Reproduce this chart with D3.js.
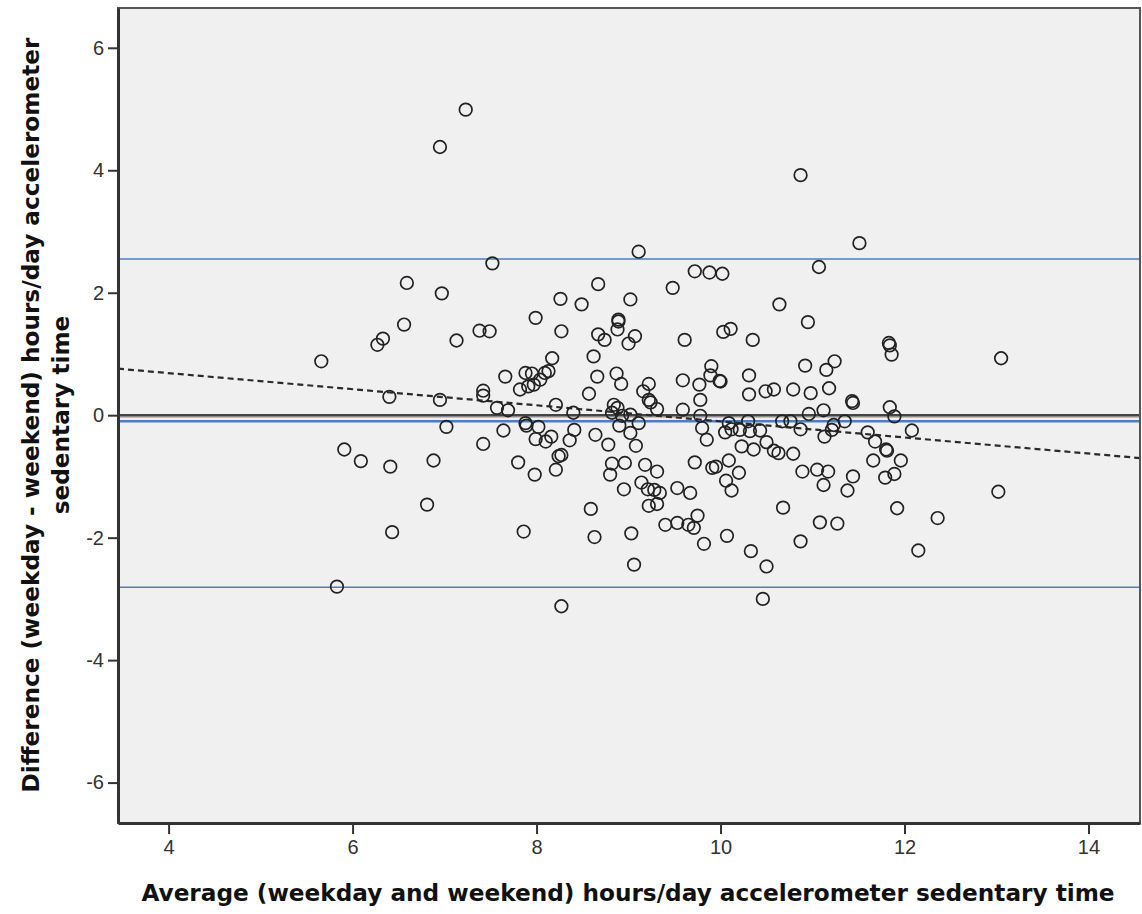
<!DOCTYPE html>
<html>
<head>
<meta charset="utf-8">
<script src="https://cdn.jsdelivr.net/npm/d3@7"></script>
<style>
  html, body { margin: 0; padding: 0; background: #ffffff; }
  svg { display: block; }
</style>
</head>
<body>
<svg id="chart" width="1142" height="914"></svg>
<script>
// ---- Data ----
const avgHours = [
  7.23, 6.95, 7.52, 6.59, 6.97, 8.26, 8.49, 7.99, 10.87, 11.51,
  5.66, 6.27, 6.33, 6.56, 7.13, 7.38, 7.49, 8.27, 8.17, 7.66,
  7.88, 7.95, 8.09, 8.13, 8.04, 7.97, 7.91, 7.82, 7.42, 7.42,
  6.40, 6.95, 7.57, 7.69, 8.21, 8.40, 7.02, 7.64, 7.88, 7.89,
  8.02, 8.41, 7.42, 7.99, 8.10, 8.16, 8.36, 5.91, 6.09, 6.41,
  6.88, 7.80, 7.98, 8.21, 8.24, 8.27, 6.81, 6.43, 7.86, 5.83,
  8.27, 9.11, 9.72, 9.88, 10.02, 11.07, 8.67, 9.48, 9.02, 10.64,
  10.95, 8.89, 8.88, 8.89, 8.67, 8.74, 9.07, 9.00, 9.61, 10.03,
  10.11, 10.35, 8.62, 8.66, 8.87, 8.92, 8.57, 9.22, 9.16, 9.22,
  9.24, 9.31, 8.84, 8.88, 9.59, 9.59, 9.77, 9.78, 9.90, 9.89,
  9.99, 10.00, 10.31, 10.31, 10.49, 10.58, 10.79, 10.98, 10.92, 11.15,
  11.24, 11.18, 11.12, 10.96, 9.78, 8.82, 8.93, 9.02, 9.11, 9.80,
  9.85, 10.09, 10.12, 10.05, 10.21, 10.30, 10.32, 10.23, 10.36, 10.43,
  10.50, 10.58, 10.63, 10.79, 10.67, 10.76, 10.87, 11.13, 11.21, 8.64,
  8.78, 8.90, 9.02, 9.08, 8.82, 8.80, 8.96, 9.18, 9.31, 8.95,
  9.14, 9.21, 9.28, 9.34, 9.22, 9.31, 8.59, 8.63, 9.03, 9.06,
  9.40, 9.53, 9.65, 9.71, 9.75, 9.82, 9.53, 9.67, 9.72, 9.91,
  9.95, 10.09, 10.20, 10.06, 10.12, 10.07, 10.68, 10.33, 10.50, 10.46,
  10.87, 10.89, 11.05, 11.17, 11.12, 11.08, 11.27, 11.83, 11.84, 11.86,
  13.05, 11.43, 11.44, 11.84, 11.89, 11.35, 11.23, 11.60, 11.68, 11.80,
  11.81, 12.08, 11.66, 11.96, 11.44, 11.79, 11.89, 11.38, 13.02, 11.92,
  12.36, 12.15
];
const diffHours = [
  4.99, 4.38, 2.48, 2.16, 1.99, 1.90, 1.81, 1.59, 3.92, 2.81,
  0.88, 1.15, 1.25, 1.48, 1.22, 1.38, 1.37, 1.37, 0.93, 0.63,
  0.69, 0.68, 0.69, 0.72, 0.58, 0.50, 0.47, 0.42, 0.40, 0.32,
  0.30, 0.25, 0.12, 0.08, 0.17, 0.04, -0.19, -0.25, -0.13, -0.17,
  -0.19, -0.24, -0.47, -0.39, -0.43, -0.35, -0.41, -0.56, -0.75, -0.84,
  -0.74, -0.77, -0.97, -0.89, -0.67, -0.65, -1.46, -1.91, -1.90, -2.80,
  -3.12, 2.67, 2.35, 2.33, 2.31, 2.42, 2.14, 2.08, 1.89, 1.81,
  1.52, 1.56, 1.40, 1.53, 1.32, 1.23, 1.29, 1.17, 1.23, 1.36,
  1.41, 1.23, 0.96, 0.63, 0.68, 0.51, 0.35, 0.51, 0.39, 0.25,
  0.21, 0.10, 0.17, 0.12, 0.57, 0.09, 0.50, 0.25, 0.80, 0.65,
  0.56, 0.55, 0.65, 0.34, 0.39, 0.42, 0.42, 0.36, 0.81, 0.74,
  0.88, 0.44, 0.08, 0.02, -0.01, 0.04, -0.01, 0.01, -0.13, -0.21,
  -0.40, -0.13, -0.23, -0.28, -0.24, -0.10, -0.26, -0.51, -0.56, -0.25,
  -0.44, -0.58, -0.62, -0.63, -0.10, -0.10, -0.23, -0.35, -0.24, -0.32,
  -0.48, -0.17, -0.29, -0.50, -0.79, -0.97, -0.78, -0.81, -0.92, -1.21,
  -1.10, -1.21, -1.22, -1.27, -1.48, -1.45, -1.53, -1.99, -1.93, -2.44,
  -1.79, -1.76, -1.79, -1.84, -1.64, -2.10, -1.19, -1.27, -0.77, -0.86,
  -0.84, -0.74, -0.94, -1.07, -1.23, -1.97, -1.51, -2.22, -2.47, -3.00,
  -2.06, -0.92, -0.89, -0.92, -1.14, -1.75, -1.77, 1.18, 1.14, 0.99,
  0.93, 0.23, 0.20, 0.13, -0.02, -0.10, -0.16, -0.28, -0.43, -0.56,
  -0.58, -0.25, -0.74, -0.74, -1.00, -1.02, -0.96, -1.23, -1.25, -1.52,
  -1.68, -2.21
];
const xTicks = [4, 6, 8, 10, 12, 14];
const yTicks = [-6, -4, -2, 0, 2, 4, 6];
const xDomain = [3.45, 14.56];
const yDomain = [-6.66, 6.65];
// Bland-Altman reference lines: upper limit, mean difference, lower limit
const limitLines = [2.55, -0.10, -2.81];
const zeroLine = [0];
// Fitted regression (dashed): intercept, slope
const regIntercept = 1.213;
const regSlope = -0.1314;
const xTitle = "Average (weekday and weekend) hours/day accelerometer sedentary time";
const yTitleLines = ["Difference (weekday - weekend) hours/day accelerometer", "sedentary time"];

// ---- Layout ----
const svg = d3.select("#chart");
const plot = { left: 118, top: 8, right: 1140, bottom: 823 };

const x = d3.scaleLinear().domain(xDomain).range([plot.left, plot.right]);
const y = d3.scaleLinear().domain(yDomain).range([plot.bottom, plot.top]);

// plot background
svg.append("rect")
  .attr("x", plot.left).attr("y", plot.top)
  .attr("width", plot.right - plot.left).attr("height", plot.bottom - plot.top)
  .attr("fill", "#f0f0f0");

svg.append("clipPath").attr("id", "clip")
  .append("rect")
  .attr("x", plot.left).attr("y", plot.top)
  .attr("width", plot.right - plot.left).attr("height", plot.bottom - plot.top);

const g = svg.append("g").attr("clip-path", "url(#clip)");

// zero line
g.selectAll("line.zeroHalo").data(zeroLine).enter().append("line")
  .attr("class", "zeroHalo")
  .attr("x1", plot.left).attr("x2", plot.right)
  .attr("y1", d => y(d) + 2).attr("y2", d => y(d) + 2)
  .attr("stroke", "#b0b0b0").attr("stroke-width", 1.2);
g.selectAll("line.zero").data(zeroLine).enter().append("line")
  .attr("class", "zero")
  .attr("x1", plot.left).attr("x2", plot.right)
  .attr("y1", d => y(d)).attr("y2", d => y(d))
  .attr("stroke", "#444").attr("stroke-width", 2.4);

// limit lines
g.selectAll("line.limit").data(limitLines).enter().append("line")
  .attr("class", "limit")
  .attr("x1", plot.left).attr("x2", plot.right)
  .attr("y1", d => y(d)).attr("y2", d => y(d))
  .attr("stroke", "#4a7fc1")
  .attr("stroke-width", (d, i) => i === 1 ? 2.4 : 1.5);

// regression dashed line
g.append("line")
  .attr("x1", x(xDomain[0])).attr("y1", y(regIntercept + regSlope * xDomain[0]))
  .attr("x2", x(xDomain[1])).attr("y2", y(regIntercept + regSlope * xDomain[1]))
  .attr("stroke", "#2a2a2a").attr("stroke-width", 2.2)
  .attr("stroke-dasharray", "6,4");

// points
const pts = avgHours.map((v, i) => ({ x: v, y: diffHours[i] }));
g.selectAll("circle.pt").data(pts).enter().append("circle")
  .attr("class", "pt")
  .attr("cx", d => x(d.x)).attr("cy", d => y(d.y))
  .attr("r", 6.3)
  .attr("fill", "none")
  .attr("stroke", "#222")
  .attr("stroke-width", 1.7);

// frame
svg.append("rect")
  .attr("x", plot.left).attr("y", plot.top)
  .attr("width", plot.right - plot.left).attr("height", plot.bottom - plot.top)
  .attr("fill", "none").attr("stroke", "#555").attr("stroke-width", 2);

// axes
const fontTick = "'Liberation Sans', Arial, sans-serif";
const fmt = d => String(d);
const xAxis = d3.axisBottom(x).tickValues(xTicks).tickFormat(fmt).tickSize(11).tickSizeOuter(0).tickPadding(6);
const yAxis = d3.axisLeft(y).tickValues(yTicks).tickFormat(fmt).tickSize(10).tickSizeOuter(0).tickPadding(4);

const gx = svg.append("g").attr("transform", `translate(0,${plot.bottom})`).call(xAxis);
const gy = svg.append("g").attr("transform", `translate(${plot.left},0)`).call(yAxis);
[gx, gy].forEach(a => {
  a.select(".domain").attr("stroke", "#333").attr("stroke-width", 3);
  a.selectAll(".tick line").attr("stroke", "#333").attr("stroke-width", 2);
  a.selectAll(".tick text")
    .attr("font-family", fontTick).attr("font-size", 20).attr("fill", "#333");
});

// axis titles
const fontTitle = "'DejaVu Sans', Verdana, sans-serif";
svg.append("text")
  .attr("x", 628).attr("y", 901)
  .attr("text-anchor", "middle")
  .attr("font-family", fontTitle).attr("font-weight", "bold").attr("font-size", 23.2)
  .attr("fill", "#111")
  .text(xTitle);

const yt = svg.append("text")
  .attr("transform", "translate(0,415) rotate(-90)")
  .attr("text-anchor", "middle")
  .attr("font-family", fontTitle).attr("font-weight", "bold").attr("font-size", 23.2)
  .attr("fill", "#111");
yTitleLines.forEach((t, i) => {
  yt.append("tspan").attr("x", 0).attr("y", 39 + i * 30).text(t);
});
</script>
</body>
</html>
